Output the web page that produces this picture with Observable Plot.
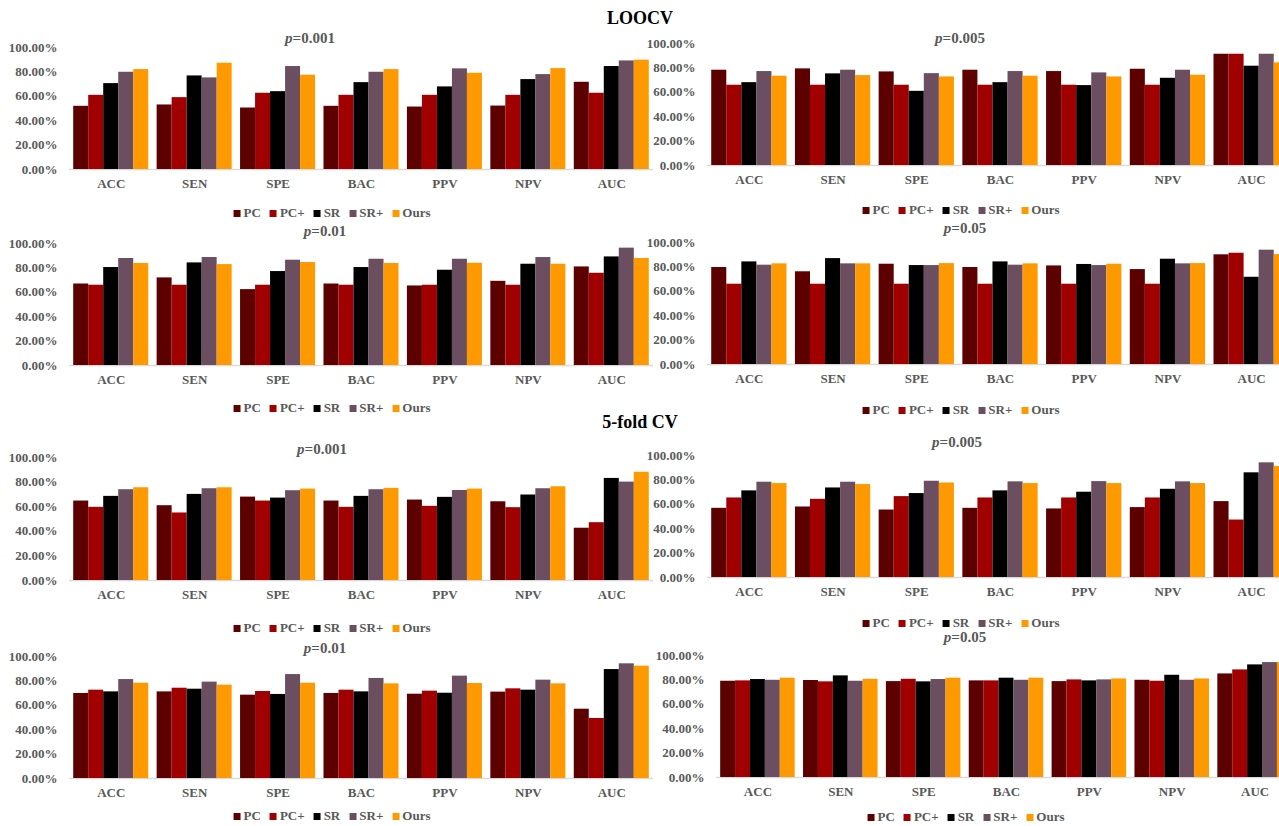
<!DOCTYPE html>
<html>
<head>
<meta charset="utf-8">
<script src="https://cdn.jsdelivr.net/npm/d3@7"></script>
<script src="https://cdn.jsdelivr.net/npm/@observablehq/plot@0.6"></script>
<style>
  html, body { margin: 0; padding: 0; background: #fff; overflow: hidden; }
  #page { position: relative; width: 1279px; height: 826px; overflow: hidden;
          font-family: "Liberation Serif", "Times New Roman", serif; }
  .abs { position: absolute; }
  .title { font-weight: bold; font-size: 18px; color: #000; transform: translate(-50%, -50%); white-space: nowrap; }
  .sub { font-weight: bold; font-size: 15px; color: #595959; transform: translate(-50%, -50%); white-space: nowrap; }
  .legend { display: flex; align-items: center; gap: 9px; transform: translate(-50%, -50%);
            font-weight: bold; font-size: 13px; line-height: 14px; color: #595959; white-space: nowrap; }
  .legend .item { display: flex; align-items: center; }
  .legend .sw { display: inline-block; width: 7px; height: 7px; margin-right: 3px; }
</style>
</head>
<body>
<div id="page"></div>
<script>
// Evaluation metrics (x categories) and compared methods (series)
const metrics = ["ACC", "SEN", "SPE", "BAC", "PPV", "NPV", "AUC"];
const methods = ["PC", "PC+", "SR", "SR+", "Ours"];
const methodColors = ["#5c0000", "#a00000", "#000000", "#6b4f60", "#ff9900"];
const yTicks = [0, 20, 40, 60, 80, 100];

// Scores in percent; one row per method, one column per metric
const loocvP001 = [
  [51.8, 52.9, 50.4, 51.8, 51.2, 52.0, 71.5],
  [60.8, 58.9, 62.5, 60.8, 60.8, 60.8, 62.5],
  [70.4, 76.7, 63.8, 71.2, 67.7, 73.7, 84.4],
  [79.7, 75.1, 84.4, 79.7, 82.5, 77.8, 89.0],
  [81.9, 87.1, 77.3, 81.9, 78.9, 82.7, 89.6]
];
const loocvP005 = [
  [78.1, 79.2, 76.7, 78.1, 77.0, 78.9, 91.2],
  [65.8, 65.8, 65.8, 65.8, 65.8, 65.8, 91.2],
  [67.9, 75.1, 60.8, 67.9, 65.5, 71.5, 81.4],
  [77.0, 78.1, 75.3, 77.0, 75.9, 78.1, 91.2],
  [73.2, 73.7, 72.6, 73.2, 72.6, 74.0, 84.1]
];
const loocvP01 = [
  [66.8, 71.8, 62.2, 66.8, 65.2, 69.0, 80.8],
  [65.8, 65.8, 65.8, 65.8, 65.8, 65.8, 75.6],
  [80.3, 84.1, 77.0, 80.3, 78.1, 83.0, 89.0],
  [87.7, 88.5, 86.3, 87.1, 87.1, 88.5, 96.2],
  [83.6, 82.7, 84.4, 83.6, 83.8, 83.0, 87.7]
];
const loocvP05 = [
  [79.5, 76.0, 82.2, 79.5, 80.8, 77.8, 89.9],
  [65.8, 65.8, 65.8, 65.8, 65.8, 65.8, 91.2],
  [84.1, 86.8, 81.1, 84.1, 82.0, 86.3, 71.5],
  [81.4, 82.5, 81.1, 81.4, 81.1, 82.5, 93.7],
  [82.5, 82.5, 82.7, 82.5, 82.2, 82.7, 90.1]
];
const fiveFoldP001 = [
  [64.6, 60.8, 67.8, 64.6, 65.4, 64.0, 42.5],
  [59.5, 54.9, 64.6, 59.5, 60.3, 59.2, 47.0],
  [68.4, 70.0, 67.0, 68.4, 67.6, 69.5, 83.0],
  [73.8, 74.6, 73.0, 73.8, 73.2, 74.6, 80.0],
  [75.4, 75.4, 74.3, 74.9, 74.3, 76.2, 88.0]
];
const fiveFoldP005 = [
  [56.7, 57.8, 55.3, 56.7, 56.2, 57.3, 62.2],
  [65.2, 64.1, 66.3, 65.2, 65.2, 65.2, 47.1],
  [71.0, 73.4, 68.8, 71.0, 69.9, 72.3, 85.8],
  [78.1, 78.1, 78.9, 78.4, 78.6, 78.4, 94.0],
  [77.0, 76.2, 77.5, 77.0, 77.0, 77.0, 91.0]
];
const fiveFoldP01 = [
  [69.7, 71.0, 68.3, 69.7, 69.1, 70.8, 56.8],
  [72.4, 74.0, 71.3, 72.4, 71.6, 73.5, 49.2],
  [71.0, 73.2, 68.9, 71.0, 69.9, 72.4, 89.3],
  [81.1, 79.0, 85.2, 82.0, 83.9, 80.6, 94.0],
  [78.1, 76.5, 78.1, 77.6, 77.9, 77.6, 92.1]
];
const fiveFoldP05 = [
  [78.9, 79.5, 78.6, 79.2, 78.6, 79.7, 84.9],
  [79.2, 78.4, 80.5, 79.2, 80.0, 78.9, 88.2],
  [80.3, 83.3, 78.4, 81.4, 79.2, 83.8, 92.3],
  [79.7, 78.9, 80.3, 79.7, 80.0, 79.7, 94.2],
  [81.4, 80.5, 81.4, 81.4, 80.8, 80.8, 94.2]
];

// Section headings
const sections = [
  { text: "LOOCV", x: 640, y: 18 },
  { text: "5-fold CV", x: 640, y: 422 }
];

// Panel placement: plot frame (x0..x1, y100..y0), subtitle and legend anchors
const panels = [
  { rows: loocvP001,   p: "0.001", x0: 68.5, x1: 652.5, y100: 46.5,  y0: 168.5, sx: 310, sy: 38,  lx: 332, ly: 213 },
  { rows: loocvP005,   p: "0.005", x0: 707,  x1: 1293,  y100: 42.5,  y0: 164.5, sx: 960, sy: 38,  lx: 961, ly: 210 },
  { rows: loocvP01,    p: "0.01",  x0: 68.5, x1: 652.5, y100: 242.5, y0: 364.5, sx: 325, sy: 231, lx: 332, ly: 408 },
  { rows: loocvP05,    p: "0.05",  x0: 707,  x1: 1293,  y100: 242,   y0: 364,   sx: 965, sy: 228, lx: 961, ly: 410 },
  { rows: fiveFoldP001, p: "0.001", x0: 68.5, x1: 652.5, y100: 457,  y0: 580,   sx: 322, sy: 449, lx: 332, ly: 628 },
  { rows: fiveFoldP005, p: "0.005", x0: 707,  x1: 1293,  y100: 455,  y0: 577,   sx: 957, sy: 442, lx: 961, ly: 623 },
  { rows: fiveFoldP01,  p: "0.01",  x0: 68.5, x1: 652.5, y100: 656,  y0: 778,   sx: 325, sy: 648, lx: 332, ly: 816 },
  { rows: fiveFoldP05,  p: "0.05",  x0: 716,  x1: 1296,  y100: 655,  y0: 777,   sx: 965, sy: 637, lx: 966, ly: 817 }
];

const page = d3.select("#page");

sections.forEach(s => {
  page.append("div").attr("class", "abs title")
    .style("left", s.x + "px").style("top", s.y + "px").text(s.text);
});

function drawPanel(P) {
  const data = [];
  methods.forEach((m, i) => metrics.forEach((k, j) => data.push({ method: m, metric: k, value: P.rows[i][j] })));

  const mL = 70, mR = 4, mT = 8, mB = 30;
  const width = (P.x1 - P.x0) + mL + mR;
  const height = (P.y0 - P.y100) + mT + mB;

  const svg = Plot.plot({
    width, height,
    marginLeft: mL, marginRight: mR, marginTop: mT, marginBottom: mB,
    style: {
      fontFamily: "'Liberation Serif', 'Times New Roman', serif",
      fontSize: "13px",
      fontWeight: "bold",
      color: "#595959",
      background: "transparent",
      overflow: "visible"
    },
    fx: { domain: metrics, padding: 0, round: false, label: null, axis: "bottom", tickSize: 0, tickPadding: 9 },
    x: { domain: methods, paddingInner: 0, paddingOuter: 0.28, round: false, axis: null },
    y: { domain: [0, 100], ticks: yTicks, tickFormat: d => d.toFixed(2) + "%", tickSize: 0, tickPadding: 12, label: null },
    color: { domain: methods, range: methodColors },
    marks: [
      Plot.ruleY([0], { stroke: "#d9d9d9", strokeWidth: 1.5 }),
      Plot.barY(data, { fx: "metric", x: "method", y: "value", fill: "method" })
    ]
  });
  svg.style.position = "absolute";
  svg.style.left = (P.x0 - mL) + "px";
  svg.style.top = (P.y100 - mT) + "px";
  page.node().appendChild(svg);

  // subtitle with italic p
  const sub = page.append("div").attr("class", "abs sub")
    .style("left", P.sx + "px").style("top", P.sy + "px");
  sub.append("i").text("p");
  sub.append("span").text("=" + P.p);

  // swatch legend
  const lg = page.append("div").attr("class", "abs legend")
    .style("left", P.lx + "px").style("top", P.ly + "px");
  methods.forEach((m, i) => {
    const it = lg.append("div").attr("class", "item");
    it.append("span").attr("class", "sw").style("background", methodColors[i]);
    it.append("span").text(m);
  });
}

panels.forEach(drawPanel);
</script>
</body>
</html>
